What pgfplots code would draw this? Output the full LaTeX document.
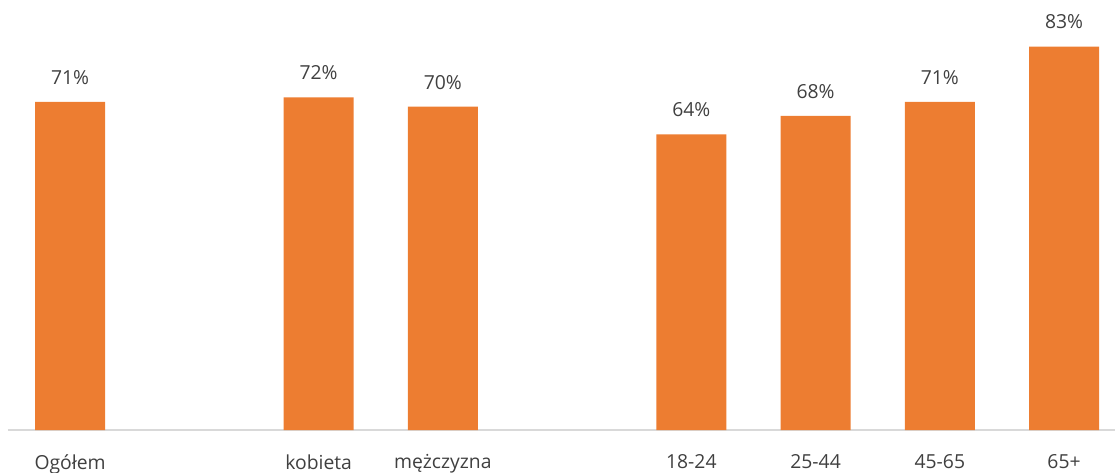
\documentclass[border=0pt]{standalone}
\usepackage{fontspec}
\setmainfont{Open Sans}
\usepackage{pgfplots}
\pgfplotsset{compat=1.18}
\definecolor{barorange}{HTML}{ED7D31}
\definecolor{txtgray}{HTML}{404040}
\definecolor{axgray}{HTML}{D9D9D9}
\begin{document}
\begin{tikzpicture}
\path[use as bounding box] (0,0) rectangle (836.25pt,354pt);
\begin{axis}[
  at={(6pt,31.5pt)}, anchor=south west,
  scale only axis,
  width=830.25pt, height=311.85pt,
  xmin=-0.5, xmax=8.41,
  ymin=0, ymax=90,
  axis x line*=bottom,
  axis y line=none,
  x axis line style={draw=axgray, line width=0.8pt},
  xtick={0,2,3,5,6,7,8},
  xticklabels={Ogółem,kobieta,mężczyzna,18-24,25-44,45-65,65+},
  major tick length=0pt,
  xticklabel style={font=\fontsize{14.5}{16}\selectfont, text=txtgray, yshift=-15pt},
  /pgf/number format/assume math mode=true,
  ybar, bar width=52.5pt,
  nodes near coords={\pgfmathprintnumber{\pgfplotspointmeta}\%},
  every node near coord/.append style={font=\fontsize{14.5}{16}\selectfont, text=txtgray, yshift=9.5pt},
  clip=false,
]
\addplot[fill=barorange, draw=none] coordinates {(0,71) (2,72) (3,70) (5,64) (6,68) (7,71) (8,83)};
\end{axis}
\end{tikzpicture}
\end{document}
